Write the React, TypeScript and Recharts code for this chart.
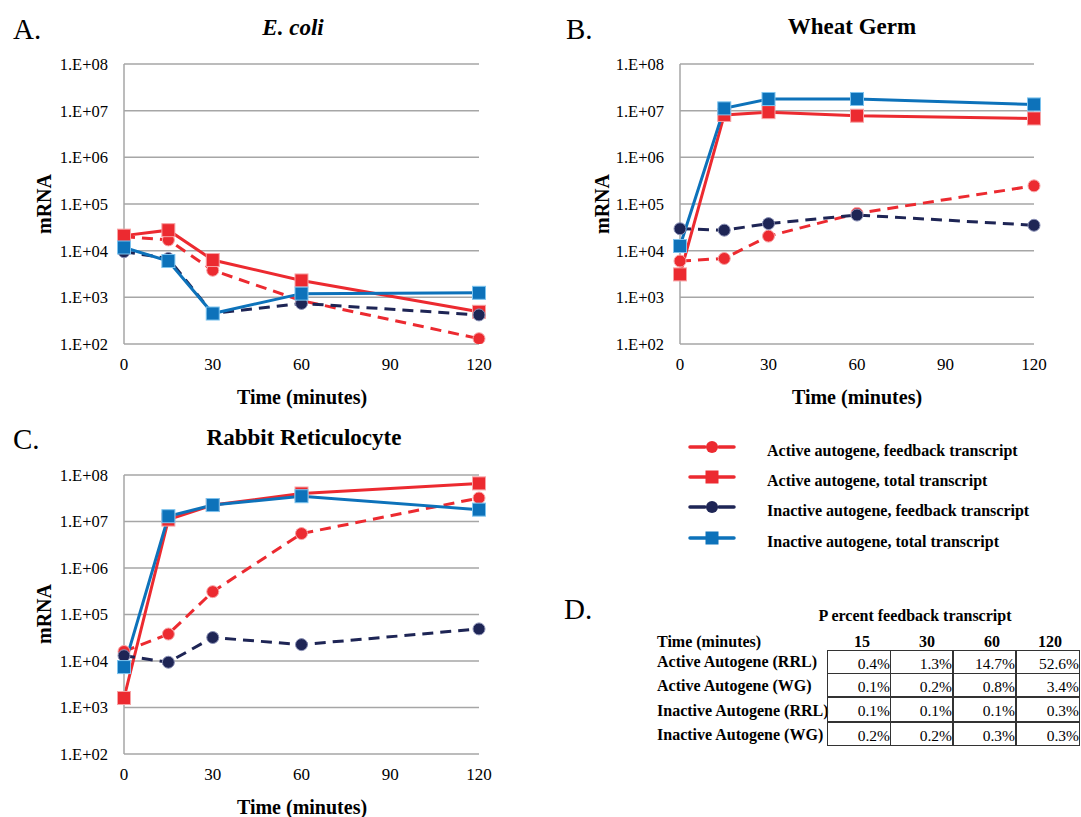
import React from 'react';
import { LineChart, Line, XAxis, YAxis, CartesianGrid } from 'recharts';

const times = [0, 15, 30, 60, 120];
const xTicks = [0, 30, 60, 90, 120];
const yTicks = [1e2, 1e3, 1e4, 1e5, 1e6, 1e7, 1e8];

// A. E. coli
const ecoliActiveFeedback = [2.0e4, 1.7e4, 3.8e3, 8.5e2, 1.3e2];
const ecoliActiveTotal = [2.1e4, 2.75e4, 6.3e3, 2.3e3, 4.9e2];
const ecoliInactiveFeedback = [9.5e3, 6.8e3, 4.5e2, 7.4e2, 4.2e2];
const ecoliInactiveTotal = [1.17e4, 6.0e3, 4.5e2, 1.2e3, 1.25e3];

// B. Wheat germ
const wgActiveFeedback = [6.0e3, 6.8e3, 2.05e4, 6.3e4, 2.45e5];
const wgActiveTotal = [3.1e3, 8.1e6, 9.3e6, 7.8e6, 6.8e6];
const wgInactiveFeedback = [2.95e4, 2.75e4, 3.8e4, 5.8e4, 3.5e4];
const wgInactiveTotal = [1.26e4, 1.12e7, 1.78e7, 1.78e7, 1.36e7];

// C. Rabbit reticulocyte
const rrlActiveFeedback = [1.6e4, 3.8e4, 3.1e5, 5.5e6, 3.2e7];
const rrlActiveTotal = [1.6e3, 1.1e7, 2.26e7, 4.0e7, 6.6e7];
const rrlInactiveFeedback = [1.3e4, 9.4e3, 3.2e4, 2.25e4, 4.9e4];
const rrlInactiveTotal = [7.4e3, 1.3e7, 2.26e7, 3.5e7, 1.8e7];

// D. table
const tableTimes = ['15', '30', '60', '120'];
const tableRows = [
  'Active Autogene (RRL)',
  'Active Autogene (WG)',
  'Inactive Autogene (RRL)',
  'Inactive Autogene (WG)',
];
const tableValues = [
  ['0.4%', '1.3%', '14.7%', '52.6%'],
  ['0.1%', '0.2%', '0.8%', '3.4%'],
  ['0.1%', '0.1%', '0.1%', '0.3%'],
  ['0.2%', '0.2%', '0.3%', '0.3%'],
];

const seriesNames = [
  'Active autogene, feedback transcript',
  'Active autogene, total transcript',
  'Inactive autogene, feedback transcript',
  'Inactive autogene, total transcript',
];

const RED = '#ec2a30';
const RED_EDGE = '#f7a3a5';
const NAVY = '#1e2555';
const NAVY_EDGE = '#8a90b5';
const BLUE = '#0d72ba';
const BLUE_EDGE = '#7cc3ee';
const GRID = '#a6a6a6';
const SERIF = "'Liberation Serif', 'Times New Roman', serif";

const build = (af: number[], at: number[], inf: number[], it: number[]) =>
  times.map((t, i) => ({ t, af: af[i], at: at[i], inf: inf[i], it: it[i] }));

const fmtLog = (v: number) => '1.E+' + String(Math.round(Math.log10(v))).padStart(2, '0');

const squareDot = (fill: string, edge: string) => (props: any) => {
  const { cx, cy, index } = props;
  if (cx == null || cy == null) return <g key={index} />;
  return (
    <rect key={index} x={cx - 6.5} y={cy - 6.5} width={13} height={13} fill={fill} stroke={edge} strokeWidth={1} />
  );
};

const circleDot = (fill: string, edge: string) => (props: any) => {
  const { cx, cy, index } = props;
  if (cx == null || cy == null) return <g key={index} />;
  return <circle key={index} cx={cx} cy={cy} r={6} fill={fill} stroke={edge} strokeWidth={1} />;
};

type PanelProps = {
  left: number;
  top: number;
  width: number;
  height: number;
  margin: { top: number; right: number; bottom: number; left: number };
  data: any[];
};

function Panel({ left, top, width, height, margin, data }: PanelProps) {
  return (
    <div style={{ position: 'absolute', left, top }}>
      <LineChart width={width} height={height} data={data} margin={margin}>
        <CartesianGrid vertical={false} stroke={GRID} strokeWidth={1.5} />
        <XAxis
          type="number"
          dataKey="t"
          domain={[0, 120]}
          ticks={xTicks}
          axisLine={false}
          tickLine={false}
          tickSize={6}
          tickMargin={8}
          height={30}
          tick={{ fill: '#000', fontSize: 17, fontFamily: SERIF }}
        />
        <YAxis
          scale="log"
          type="number"
          domain={[1e2, 1e8]}
          ticks={yTicks}
          allowDataOverflow
          tickFormatter={fmtLog}
          width={60}
          axisLine={{ stroke: GRID, strokeWidth: 1.5 }}
          tickLine={false}
          tickSize={6}
          tickMargin={10}
          tick={{ fill: '#000', fontSize: 16.5, fontFamily: SERIF }}
        />
        <Line dataKey="af" stroke={RED} strokeWidth={3} strokeDasharray="11 7" dot={circleDot(RED, RED_EDGE)} isAnimationActive={false} />
        <Line dataKey="at" stroke={RED} strokeWidth={3} dot={squareDot(RED, RED_EDGE)} isAnimationActive={false} />
        <Line dataKey="inf" stroke={NAVY} strokeWidth={3} strokeDasharray="11 7" dot={circleDot(NAVY, NAVY_EDGE)} isAnimationActive={false} />
        <Line dataKey="it" stroke={BLUE} strokeWidth={3} dot={squareDot(BLUE, BLUE_EDGE)} isAnimationActive={false} />
      </LineChart>
    </div>
  );
}

const txt = (s: string, x: number, y: number, style: React.CSSProperties = {}, key?: any) => (
  <div
    key={key}
    style={{
      position: 'absolute',
      left: x,
      top: y,
      transform: 'translate(-50%, -50%)',
      whiteSpace: 'nowrap',
      fontFamily: SERIF,
      color: '#000',
      lineHeight: 1,
      ...style,
    }}
  >
    {s}
  </div>
);

const letter = { fontSize: 29, transform: 'translate(0, -50%)' };
const title = { fontSize: 23, fontWeight: 700 };
const axisTitle = { fontSize: 20, fontWeight: 700 };
const yTitle = { fontSize: 20, fontWeight: 700, transform: 'translate(-50%, -50%) rotate(-90deg)' };

export default function App() {
  const colEdges = [827, 891, 954, 1017, 1081];
  const rowEdges = [650, 674, 698, 723, 747];
  const headerX = [862, 927, 992, 1050];
  const legendY = [447, 477, 507, 538];
  const legendStyles = [
    { color: RED, dash: true },
    { color: RED, dash: false },
    { color: NAVY, dash: true },
    { color: BLUE, dash: false },
  ];

  return (
    <div style={{ position: 'absolute', left: 0, top: 0, width: 1081, height: 817, background: '#fff', overflow: 'hidden' }}>
      <Panel
        left={0}
        top={0}
        width={540}
        height={410}
        margin={{ top: 64, right: 61, bottom: 36, left: 64 }}
        data={build(ecoliActiveFeedback, ecoliActiveTotal, ecoliInactiveFeedback, ecoliInactiveTotal)}
      />
      <Panel
        left={540}
        top={0}
        width={541}
        height={410}
        margin={{ top: 64, right: 47, bottom: 36, left: 80 }}
        data={build(wgActiveFeedback, wgActiveTotal, wgInactiveFeedback, wgInactiveTotal)}
      />
      <Panel
        left={0}
        top={410}
        width={540}
        height={407}
        margin={{ top: 65, right: 61, bottom: 33, left: 64 }}
        data={build(rrlActiveFeedback, rrlActiveTotal, rrlInactiveFeedback, rrlInactiveTotal)}
      />

      {txt('A.', 13, 29, letter)}
      {txt('B.', 566, 29, letter)}
      {txt('C.', 13, 439, letter)}
      {txt('D.', 564, 609, letter)}

      {txt('E. coli', 293, 27, { ...title, fontStyle: 'italic' })}
      {txt('Wheat Germ', 852, 26, title)}
      {txt('Rabbit Reticulocyte', 304, 437, title)}

      {txt('Time (minutes)', 302, 397, axisTitle)}
      {txt('Time (minutes)', 857, 397, axisTitle)}
      {txt('Time (minutes)', 302, 807, axisTitle)}
      {txt('mRNA', 44, 204, yTitle)}
      {txt('mRNA', 602, 204, yTitle)}
      {txt('mRNA', 44, 614, yTitle)}

      <svg style={{ position: 'absolute', left: 0, top: 0 }} width={1081} height={817}>
        {legendStyles.map((s, i) => (
          <g key={i}>
            <line
              x1={690}
              x2={734}
              y1={legendY[i]}
              y2={legendY[i]}
              stroke={s.color}
              strokeWidth={3.5}
              strokeLinecap="round"
              strokeDasharray={s.dash ? '15 14' : undefined}
            />
            {s.dash ? (
              <circle cx={712} cy={legendY[i]} r={6} fill={s.color} />
            ) : (
              <rect x={705.5} y={legendY[i] - 6.5} width={13} height={13} fill={s.color} />
            )}
          </g>
        ))}
      </svg>
      {seriesNames.map((n, i) =>
        txt(n, 767, legendY[i] + 4, { fontSize: 16, fontWeight: 700, transform: 'translate(0, -50%)' }, 'l' + i)
      )}

      {txt('P ercent feedback transcript', 915, 616, { fontSize: 16, fontWeight: 700 })}
      {txt('Time (minutes)', 657, 642, { fontSize: 16, fontWeight: 700, transform: 'translate(0, -50%)' })}
      {tableTimes.map((t, i) => txt(t, headerX[i], 642, { fontSize: 16, fontWeight: 700 }, 'h' + i))}
      {tableRows.map((r, i) =>
        txt(r, 657, (rowEdges[i] + rowEdges[i + 1]) / 2, { fontSize: 16, fontWeight: 700, transform: 'translate(0, -50%)' }, 'r' + i)
      )}
      {tableValues.map((row, i) =>
        row.map((v, j) => (
          <div
            key={'c' + i + '-' + j}
            style={{
              position: 'absolute',
              left: colEdges[j],
              top: rowEdges[i],
              width: colEdges[j + 1] - colEdges[j],
              height: rowEdges[i + 1] - rowEdges[i],
              boxSizing: 'border-box',
              border: '1px solid #333',
              marginLeft: j > 0 ? -1 : 0,
              marginTop: i > 0 ? -1 : 0,
              fontFamily: SERIF,
              fontSize: 15.5,
              textAlign: 'right',
              lineHeight: '26px',
              paddingRight: 0,
              color: '#000',
            }}
          >
            {v}
          </div>
        ))
      )}
    </div>
  );
}
